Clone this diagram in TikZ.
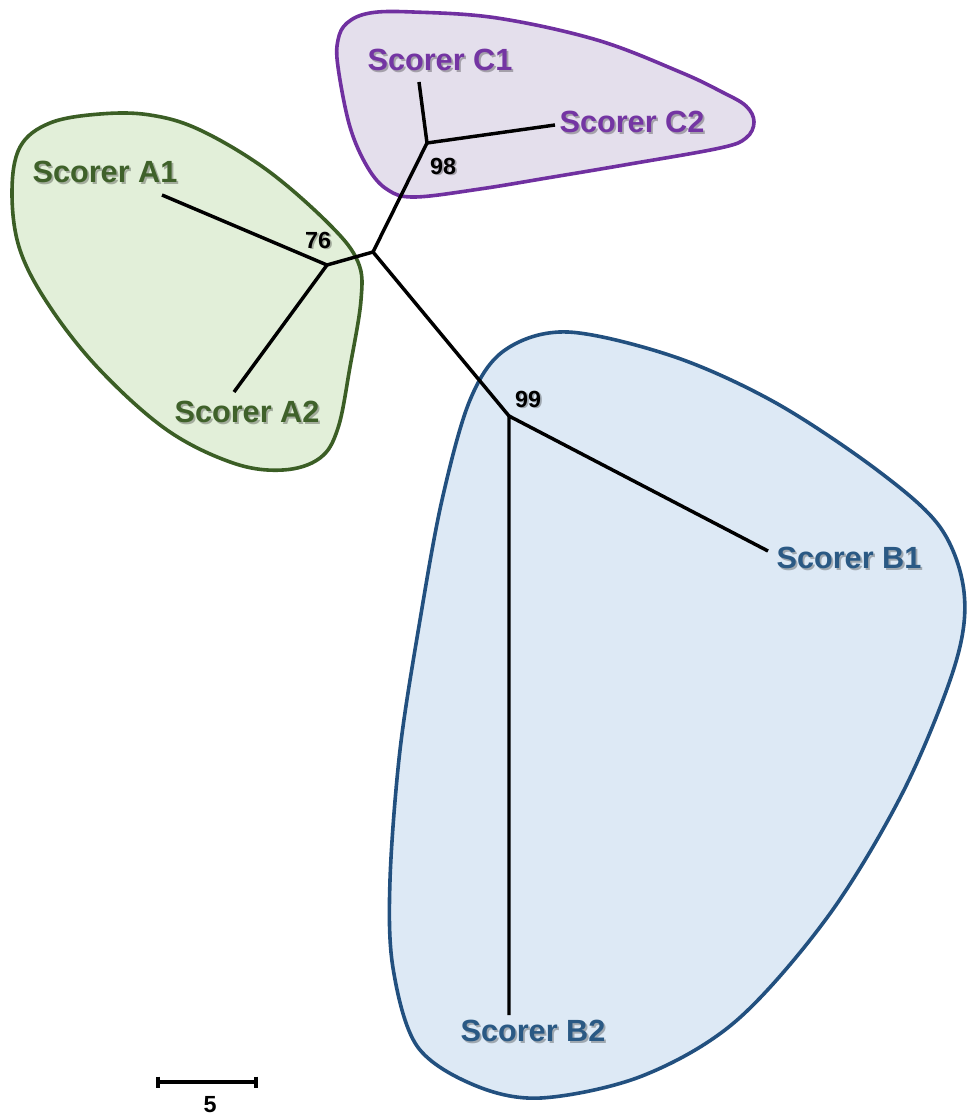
\documentclass[tikz,border=0pt]{standalone}
\usepackage{fontspec}
\setmainfont{Liberation Sans}
\usetikzlibrary{calc}

\definecolor{grpAfill}{HTML}{E2EFD9}
\definecolor{grpAline}{HTML}{3B5E25}
\definecolor{grpAtext}{HTML}{3F612A}
\definecolor{grpCfill}{HTML}{E4DFEC}
\definecolor{grpCline}{HTML}{7030A0}
\definecolor{grpCtext}{HTML}{7435A3}
\definecolor{grpBfill}{HTML}{DDE9F5}
\definecolor{grpBline}{HTML}{22507F}
\definecolor{grpBtext}{HTML}{2A5984}

\tikzset{
  hull/.style={line width=2.7pt, line join=round},
  branch/.style={line width=2.6pt, black, line cap=butt, line join=miter},
  taxon/.style={font=\fontsize{23}{26}\selectfont\bfseries, inner sep=0pt},
  support/.style={font=\fontsize{17.5}{20}\selectfont\bfseries, inner sep=0pt, text=black},
  dropshadow/.style={text=black, opacity=0.28},
}

% label with a soft drop shadow underneath
\newcommand{\shadowedlabel}[5]{%
  \node[#1, dropshadow] at ($(#3)+(1.8,1.8)$) {#5};
  \node[#1, text=#4] (#2) at (#3) {#5};
}

\begin{document}
\begin{tikzpicture}[x=0.75pt, y=-0.75pt]
\useasboundingbox (0,0) rectangle (967,1116);

% cluster outlines
\draw[hull, draw=grpAline, fill=grpAfill] plot[smooth cycle, tension=0.6] coordinates {
  (100,114) (50,123) (20,147) (12,193) (20,250) (50,307) (100,370) (167,430)
  (233,463) (283,470) (320,458) (338,428) (350,367) (361,300) (358,262)
  (330,225) (267,170) (200,130) (150,115)};

\draw[hull, draw=grpCline, fill=grpCfill] plot[smooth cycle, tension=0.6] coordinates {
  (347,23) (370,13) (413,12) (497,18) (597,40) (680,72) (722,92) (746,106)
  (754,122) (746,138) (720,148) (630,164) (547,178) (480,189) (415,197)
  (388,190) (368,168) (350,127) (338,67) (338,40)};

\draw[hull, draw=grpBline, fill=grpBfill] plot[smooth cycle, tension=0.55] coordinates {
  (568,332) (675,357) (776,403) (877,470) (940,527) (964,592) (955,665)
  (904,790) (829,915) (736,1021) (642,1076) (541,1098) (474,1085)
  (417,1046) (393,968) (390,880) (400,750) (420,620) (442,500) (470,400)
  (505,350)};

% tree nodes
\coordinate (root) at (373,252);
\coordinate (nA) at (327,265);
\coordinate (nC) at (427,143);
\coordinate (nB) at (509,416);
\coordinate (tA1) at (162,195);
\coordinate (tA2) at (234,392);
\coordinate (tC1) at (419,82);
\coordinate (tC2) at (555,125);
\coordinate (tB1) at (768,551);
\coordinate (tB2) at (509,1015);

% branches
\draw[branch] (root) -- (nA);
\draw[branch] (root) -- (nC);
\draw[branch] (root) -- (nB);
\draw[branch] (tA1) -- (nA) -- (tA2);
\draw[branch] (tC1) -- (nC) -- (tC2);
\draw[branch] (tB1) -- (nB) -- (tB2);

% taxon labels
\shadowedlabel{taxon}{lA1}{105,172}{grpAtext}{Scorer A1}
\shadowedlabel{taxon}{lA2}{247,412}{grpAtext}{Scorer A2}
\shadowedlabel{taxon}{lC1}{440,60}{grpCtext}{Scorer C1}
\shadowedlabel{taxon}{lC2}{632,122}{grpCtext}{Scorer C2}
\shadowedlabel{taxon}{lB1}{849,558}{grpBtext}{Scorer B1}
\shadowedlabel{taxon}{lB2}{533,1031}{grpBtext}{Scorer B2}

% bootstrap support
\shadowedlabel{support}{sA}{318,240}{black}{76}
\shadowedlabel{support}{sC}{443,166}{black}{98}
\shadowedlabel{support}{sB}{528,399}{black}{99}

% scale bar
\coordinate (barL) at (158,1082);
\coordinate (barR) at (256,1082);
\draw[branch] (barL) -- (barR);
\draw[branch] ($(barL)+(0,-5.5)$) -- ($(barL)+(0,5.5)$);
\draw[branch] ($(barR)+(0,-5.5)$) -- ($(barR)+(0,5.5)$);
\node[support] (barlabel) at (210,1105) {5};
\end{tikzpicture}
\end{document}
